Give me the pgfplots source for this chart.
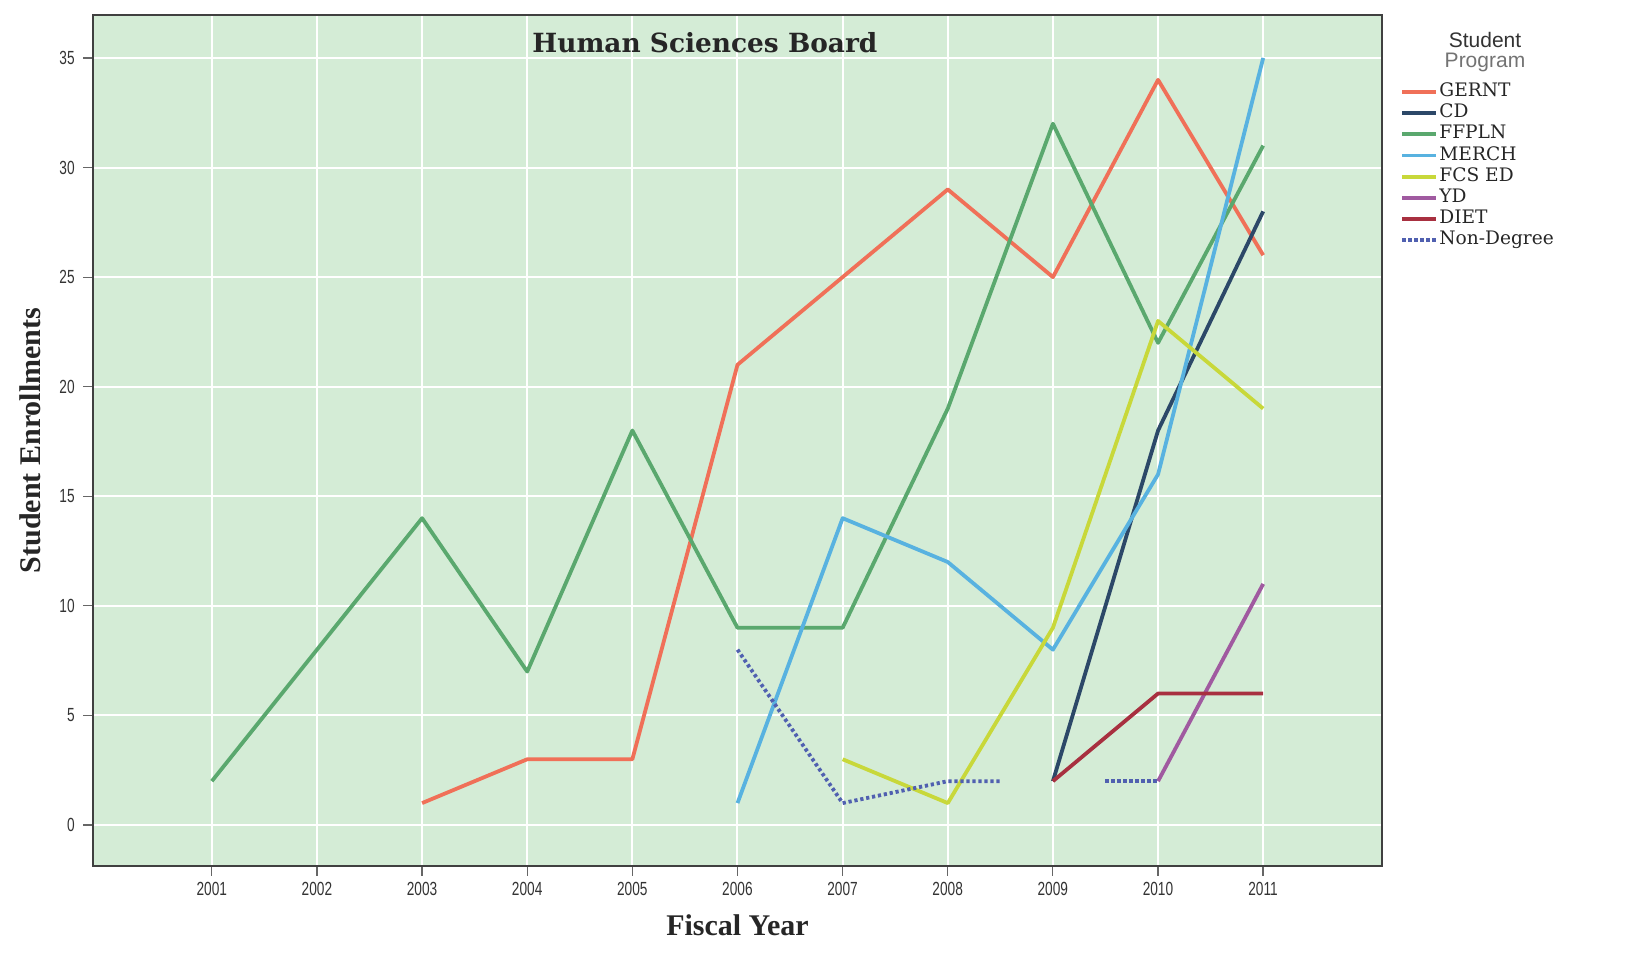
\documentclass[border=0pt]{standalone}
\usepackage{fontspec}
\setmainfont{Liberation Serif}
\newfontfamily\tickfont[FakeStretch=0.72]{Liberation Sans}
\newfontfamily\legfont{DejaVu Serif}
\newfontfamily\sansfont{Liberation Sans}
\usepackage{pgfplots}
\pgfplotsset{compat=1.18}

\definecolor{bgplot}{RGB}{212,236,214}
\definecolor{cGERNT}{RGB}{240,112,88}
\definecolor{cCD}{RGB}{44,72,104}
\definecolor{cFFPLN}{RGB}{90,168,110}
\definecolor{cMERCH}{RGB}{88,178,224}
\definecolor{cFCS}{RGB}{200,216,58}
\definecolor{cYD}{RGB}{160,90,160}
\definecolor{cDIET}{RGB}{168,48,64}
\definecolor{cNON}{RGB}{80,96,176}

\begin{document}
\begin{tikzpicture}
% page size: 1630 x 973 px at 0.5pt per px, plot corner at px (93,866)
\path[use as bounding box] (-46.5pt,-53.5pt) rectangle (768.5pt,433pt);
\begin{axis}[
  at={(0pt,0pt)}, anchor=south west,
  scale only axis,
  width=644.5pt, height=425.5pt,
  xmin=1999.87, xmax=2012.13,
  ymin=-1.87, ymax=36.96,
  xtick={2001,2002,...,2011},
  ytick={0,5,...,35},
  /pgf/number format/1000 sep={},
  tick align=outside,
  major tick length=5pt,
  tick style={black!60, line width=0.6pt},
  xtick pos=bottom, ytick pos=left,
  grid=major,
  major grid style={white, line width=1pt},
  axis background/.style={fill=bgplot},
  axis line style={black!75, line width=1pt},
  ticklabel style={font=\tickfont\fontsize{9.5}{10}\selectfont, text=black!80},
  /pgf/number format/assume math mode=true,
  xticklabel style={anchor=center, inner sep=0pt, yshift=-6.5pt},
  yticklabel style={anchor=east, inner sep=0pt, xshift=-4pt},
  xlabel={Fiscal Year},
  ylabel={Student Enrollments},
  label style={font=\bfseries\fontsize{15}{17}\selectfont, text=black!85},
  xlabel style={at={(axis description cs:0.5,0)}, anchor=center, yshift=-29.5pt},
  ylabel style={at={(axis description cs:0,0.5)}, anchor=center, yshift=31.5pt},
  every axis plot/.append style={line width=1.9pt, line join=round},
  legend style={at={(axis description cs:1,1)}, anchor=north west,
    xshift=9pt, yshift=-33pt, draw=none, fill=none, inner sep=0pt,
    font=\legfont\fontsize{9.3}{10}\selectfont, text=black!85,
    nodes={inner sep=0.6pt, text height=7pt, text depth=2.4pt},
    row sep=0pt},
  legend cell align=left,
  legend image code/.code={\draw[#1] (0pt,0pt) -- (17pt,0pt);},
  clip=false,
]
\addplot[cGERNT] coordinates {
  (2003,1)(2004,3)(2005,3)(2006,21)(2007,25)(2008,29)(2009,25)(2010,34)(2011,26)};
\addlegendentry{GERNT}
\addplot[cCD] coordinates {(2009,2)(2010,18)(2011,28)};
\addlegendentry{CD}
\addplot[cFFPLN] coordinates {
  (2001,2)(2002,8)(2003,14)(2004,7)(2005,18)(2006,9)(2007,9)(2008,19)(2009,32)(2010,22)(2011,31)};
\addlegendentry{FFPLN}
\addplot[cMERCH] coordinates {
  (2006,1)(2007,14)(2008,12)(2009,8)(2010,16)(2011,35)};
\addlegendentry{MERCH}
\addplot[cFCS] coordinates {(2007,3)(2008,1)(2009,9)(2010,23)(2011,19)};
\addlegendentry{FCS ED}
\addplot[cYD] coordinates {(2010,2)(2011,11)};
\addlegendentry{YD}
\addplot[cDIET] coordinates {(2009,2)(2010,6)(2011,6)};
\addlegendentry{DIET}
\addplot[cNON, dash pattern=on 1.6pt off 1.4pt] coordinates {
  (2006,8)(2007,1)(2008,2)(2008.5,2)};
\addlegendentry{Non-Degree}
\addplot[cNON, dash pattern=on 1.6pt off 1.4pt, forget plot] coordinates {
  (2009.5,2)(2010,2)};
\node[font=\legfont\bfseries\fontsize{13.2}{15}\selectfont, text=black!85]
  at (axis cs:2005.69,35.68) {Human Sciences Board};
\end{axis}
\node[font=\sansfont\fontsize{10.5}{12}\selectfont, text=black!80] at (696pt,413pt) {Student};
\node[font=\sansfont\fontsize{10.5}{12}\selectfont, text=black!55] at (696pt,402pt) {Program};
\end{tikzpicture}
\end{document}
